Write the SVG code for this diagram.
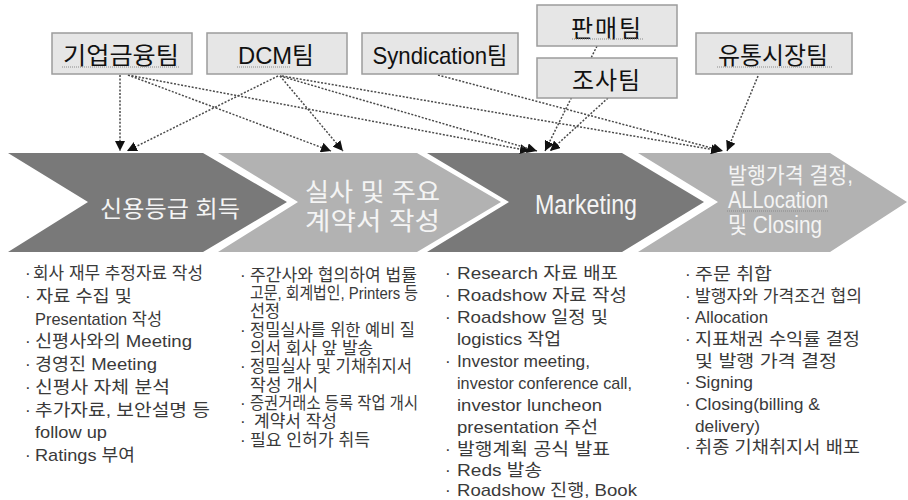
<svg xmlns="http://www.w3.org/2000/svg" width="908" height="500" viewBox="0 0 908 500">
<style>
.box{fill:#e6e6e6;stroke:#9c9c9c;stroke-width:1.5}
.bt{font-family:"Liberation Sans","Noto Sans CJK KR",sans-serif;font-size:24px;fill:#111;text-anchor:middle}
.dark{fill:#797979}
.light{fill:#b2b2b2}
.ct{font-family:"Liberation Sans","Noto Sans CJK KR",sans-serif;fill:#f4f4f4}
.con{fill:none;stroke:#4a4a4a;stroke-width:1.5;stroke-dasharray:2 1.6;marker-end:url(#ah)}
.sq{stroke:#8a8a8a;stroke-width:1;stroke-dasharray:1 1}
.tx{font-family:"Liberation Sans","Noto Sans CJK KR",sans-serif;font-size:17px;fill:#3a3a3a}
</style>
<defs>
<marker id="ah" viewBox="0 0 10 10" refX="10" refY="5" markerWidth="10" markerHeight="10" markerUnits="userSpaceOnUse" orient="auto">
<path d="M0,0 L10,5 L0,10 z" fill="#111"/>
</marker>
</defs>
<rect width="908" height="500" fill="#fff"/>

<g id="chevrons">
<g id="step1"><polygon class="dark" points="8,153 203,153 287,202 203,252 8,252 88,202"/>
<text class="ct" x="100" y="217" font-size="23" textLength="140" lengthAdjust="spacingAndGlyphs">신용등급 회득</text></g>
<g id="step2"><polygon class="light" points="218,153 417,153 501,202 417,252 218,252 298,202"/>
<text class="ct" x="305" y="201" font-size="25" textLength="135" lengthAdjust="spacingAndGlyphs">실사 및 주요</text>
<text class="ct" x="305" y="230" font-size="25" textLength="135" lengthAdjust="spacingAndGlyphs">계약서 작성</text></g>
<g id="step3"><polygon class="dark" points="427,153 622,153 704,202 622,252 427,252 509,202"/>
<text class="ct" x="535" y="214" font-size="27" textLength="102" lengthAdjust="spacingAndGlyphs">Marketing</text></g>
<g id="step4"><polygon class="light" points="638,153 830,153 907,202 830,252 638,252 718,202"/>
<text class="ct" x="728" y="183" font-size="22" textLength="125" lengthAdjust="spacingAndGlyphs">발행가격 결정,</text>
<text class="ct" x="728" y="208" font-size="24" textLength="100" lengthAdjust="spacingAndGlyphs">ALLocation</text>
<text class="ct" x="728" y="233" font-size="23" textLength="94" lengthAdjust="spacingAndGlyphs">및 Closing</text>
<line class="sq" x1="727" y1="211" x2="828" y2="211"/></g>
</g>

<g id="connectors">
<line class="con" x1="120" y1="75" x2="120" y2="151"/>
<line class="con" x1="278" y1="76" x2="127" y2="151"/>
<line class="con" x1="128" y1="75" x2="331" y2="151"/>
<line class="con" x1="280" y1="76" x2="343" y2="151"/>
<line class="con" x1="128" y1="75" x2="530" y2="151"/>
<line class="con" x1="280" y1="76" x2="537" y2="151"/>
<line class="con" x1="597" y1="46" x2="545" y2="151"/>
<line class="con" x1="608" y1="98" x2="550" y2="151"/>
<line class="con" x1="438" y1="75" x2="723" y2="151"/>
<line class="con" x1="282" y1="76" x2="721" y2="151"/>
<line class="con" x1="758" y1="76" x2="727" y2="151"/>
</g>

<g id="n1"><rect class="box" x="52" y="33" width="140" height="41"/><text class="bt" x="121" y="64" textLength="116" lengthAdjust="spacingAndGlyphs">기업금융팀</text><line class="sq" x1="62" y1="67" x2="180" y2="67"/></g>
<g id="n2"><rect class="box" x="207" y="33" width="140" height="41"/><text class="bt" x="276" y="64" textLength="76" lengthAdjust="spacingAndGlyphs">DCM팀</text><line class="sq" x1="237" y1="67" x2="290" y2="67"/></g>
<g id="n3"><rect class="box" x="362" y="33" width="156" height="41"/><text class="bt" x="440" y="64" textLength="135" lengthAdjust="spacingAndGlyphs">Syndication팀</text></g>
<g id="n4"><rect class="box" x="537" y="5" width="140" height="41"/><text class="bt" x="606" y="37" textLength="70" lengthAdjust="spacing">판매팀</text><line class="sq" x1="572" y1="39" x2="643" y2="39"/></g>
<g id="n5"><rect class="box" x="537" y="58" width="140" height="40"/><text class="bt" x="606" y="89" textLength="68" lengthAdjust="spacing">조사팀</text></g>
<g id="n6"><rect class="box" x="696" y="33" width="156" height="41"/><text class="bt" x="773" y="64" textLength="110" lengthAdjust="spacingAndGlyphs">유통시장팀</text><line class="sq" x1="717" y1="67" x2="833" y2="67"/></g>

<g id="col1" class="tx">
<text x="25" y="279">·</text><text x="33" y="279" textLength="170" lengthAdjust="spacingAndGlyphs">회사 재무 추정자료 작성</text>
<text x="25" y="302">·</text><text x="36" y="302" textLength="96" lengthAdjust="spacingAndGlyphs">자료 수집 및</text>
<text x="35" y="325" textLength="127" lengthAdjust="spacingAndGlyphs">Presentation 작성</text>
<text x="25" y="347">·</text><text x="35" y="347" textLength="157" lengthAdjust="spacingAndGlyphs">신평사와의 Meeting</text>
<text x="25" y="370">·</text><text x="35" y="370" textLength="122" lengthAdjust="spacingAndGlyphs">경영진 Meeting</text>
<text x="25" y="393">·</text><text x="35" y="393" textLength="135" lengthAdjust="spacingAndGlyphs">신평사 자체 분석</text>
<text x="25" y="416">·</text><text x="35" y="416" textLength="175" lengthAdjust="spacingAndGlyphs">추가자료, 보안설명 등</text>
<text x="35" y="438" textLength="72" lengthAdjust="spacingAndGlyphs">follow up</text>
<text x="25" y="461">·</text><text x="35" y="461" textLength="100" lengthAdjust="spacingAndGlyphs">Ratings 부여</text>
</g>

<g id="col2" class="tx">
<text x="240" y="281">·</text><text x="250" y="281" textLength="167" lengthAdjust="spacingAndGlyphs">주간사와 협의하여 법률</text>
<text x="250" y="299" textLength="168" lengthAdjust="spacingAndGlyphs">고문, 회계법인, Printers 등</text>
<text x="250" y="317" textLength="30" lengthAdjust="spacingAndGlyphs">선정</text>
<text x="240" y="336">·</text><text x="250" y="336" textLength="165" lengthAdjust="spacingAndGlyphs">정밀실사를 위한 예비 질</text>
<text x="250" y="354" textLength="123" lengthAdjust="spacingAndGlyphs">의서 회사 앞 발송</text>
<text x="240" y="372">·</text><text x="250" y="372" textLength="162" lengthAdjust="spacingAndGlyphs">정밀실사 및 기채취지서</text>
<text x="250" y="391" textLength="68" lengthAdjust="spacingAndGlyphs">작성 개시</text>
<text x="240" y="409">·</text><text x="250" y="409" textLength="168" lengthAdjust="spacingAndGlyphs">증권거래소 등록 작업 개시</text>
<text x="240" y="427">·</text><text x="254" y="427" textLength="83" lengthAdjust="spacingAndGlyphs">계약서 작성</text>
<text x="240" y="446">·</text><text x="250" y="446" textLength="120" lengthAdjust="spacingAndGlyphs">필요 인허가 취득</text>
</g>

<g id="col3" class="tx">
<text x="445" y="279">·</text><text x="457" y="279" textLength="161" lengthAdjust="spacingAndGlyphs">Research 자료 배포</text>
<text x="445" y="301">·</text><text x="457" y="301" textLength="170" lengthAdjust="spacingAndGlyphs">Roadshow 자료 작성</text>
<text x="445" y="323">·</text><text x="457" y="323" textLength="151" lengthAdjust="spacingAndGlyphs">Roadshow 일정 및</text>
<text x="457" y="345" textLength="104" lengthAdjust="spacingAndGlyphs">logistics 작업</text>
<text x="445" y="367">·</text><text x="457" y="367" textLength="133" lengthAdjust="spacingAndGlyphs">Investor meeting,</text>
<text x="457" y="389" textLength="175" lengthAdjust="spacingAndGlyphs">investor conference call,</text>
<text x="457" y="411" textLength="145" lengthAdjust="spacingAndGlyphs">investor luncheon</text>
<text x="457" y="433" textLength="141" lengthAdjust="spacingAndGlyphs">presentation 주선</text>
<text x="445" y="455">·</text><text x="457" y="455" textLength="153" lengthAdjust="spacingAndGlyphs">발행계획 공식 발표</text>
<text x="445" y="476">·</text><text x="457" y="476" textLength="85" lengthAdjust="spacingAndGlyphs">Reds 발송</text>
<text x="445" y="496">·</text><text x="457" y="496" textLength="180" lengthAdjust="spacingAndGlyphs">Roadshow 진행, Book</text>
</g>

<g id="col4" class="tx">
<text x="685" y="280">·</text><text x="695" y="280" textLength="77" lengthAdjust="spacingAndGlyphs">주문 취합</text>
<text x="685" y="302">·</text><text x="695" y="302" textLength="167" lengthAdjust="spacingAndGlyphs">발행자와 가격조건 협의</text>
<text x="685" y="323">·</text><text x="695" y="323" textLength="73" lengthAdjust="spacingAndGlyphs">Allocation</text>
<text x="685" y="345">·</text><text x="695" y="345" textLength="165" lengthAdjust="spacingAndGlyphs">지표채권 수익률 결정</text>
<text x="695" y="367" textLength="142" lengthAdjust="spacingAndGlyphs">및 발행 가격 결정</text>
<text x="685" y="388">·</text><text x="695" y="388" textLength="58" lengthAdjust="spacingAndGlyphs">Signing</text>
<text x="685" y="410">·</text><text x="695" y="410" textLength="125" lengthAdjust="spacingAndGlyphs">Closing(billing &amp;</text>
<text x="695" y="432" textLength="65" lengthAdjust="spacingAndGlyphs">delivery)</text>
<text x="685" y="453">·</text><text x="695" y="453" textLength="165" lengthAdjust="spacingAndGlyphs">취종 기채취지서 배포</text>
</g>
</svg>
